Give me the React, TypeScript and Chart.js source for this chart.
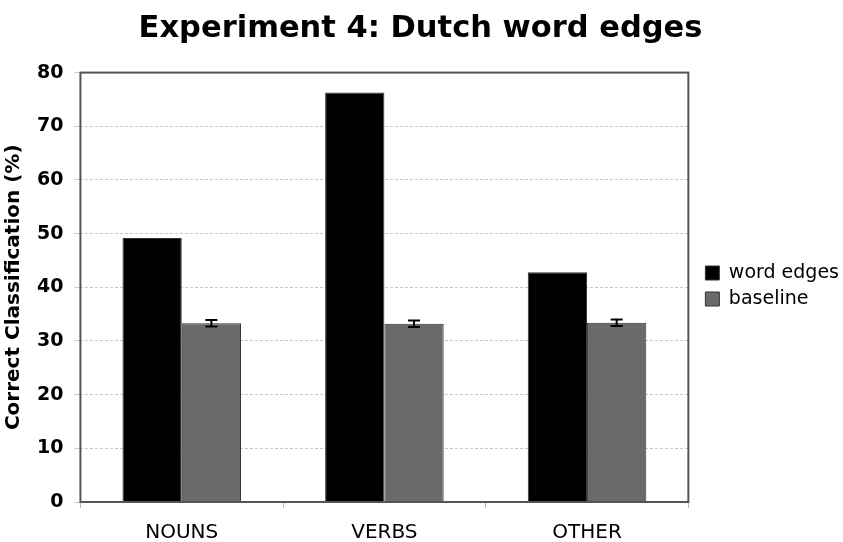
import React, { useEffect, useRef } from "react";
import { Chart, registerables } from "chart.js";

Chart.register(...registerables);

const categories = ["NOUNS", "VERBS", "OTHER"];
const wordEdges = [49.2, 76.3, 42.8];
const baseline = [33.3, 33.2, 33.4];
const baselineErr = [0.6, 0.6, 0.6];
const yTicks = [0, 10, 20, 30, 40, 50, 60, 70, 80];

const FONT = "'DejaVu Sans', Verdana, sans-serif";

const errorBarPlugin = {
  id: "errorBars",
  afterDatasetsDraw(chart: any) {
    const ctx = chart.ctx;
    const meta = chart.getDatasetMeta(1);
    const y = chart.scales.y;
    ctx.save();
    ctx.strokeStyle = "#000";
    ctx.lineWidth = 2;
    meta.data.forEach((bar: any, i: number) => {
      const v = baseline[i];
      const e = baselineErr[i];
      const yTop = y.getPixelForValue(v + e);
      const yBot = y.getPixelForValue(v - e);
      const x = bar.x;
      ctx.beginPath();
      ctx.moveTo(x, yTop);
      ctx.lineTo(x, yBot);
      ctx.moveTo(x - 6, yTop);
      ctx.lineTo(x + 6, yTop);
      ctx.moveTo(x - 6, yBot);
      ctx.lineTo(x + 6, yBot);
      ctx.stroke();
    });
    ctx.restore();
  },
};

const framePlugin = {
  id: "frame",
  afterLayout(chart: any) {
    const lg = chart.legend;
    if (lg) {
      lg.left += 10;
      lg.right += 10;
      lg.top += 7;
      lg.bottom += 7;
    }
  },
  afterDraw(chart: any) {
    const { ctx, chartArea } = chart;
    ctx.save();
    ctx.strokeStyle = "#555";
    ctx.lineWidth = 2;
    ctx.strokeRect(chartArea.left, chartArea.top, chartArea.right - chartArea.left, chartArea.bottom - chartArea.top);
    ctx.restore();
  },
};

export default function App() {
  const ref = useRef<HTMLCanvasElement | null>(null);
  useEffect(() => {
    document.body.style.margin = "0";
    const chart = new Chart(ref.current!, {
      type: "bar",
      data: {
        labels: categories,
        datasets: [
          {
            label: "word edges",
            data: wordEdges,
            backgroundColor: "#000000",
            borderColor: "#333333",
            borderWidth: 1,
            barPercentage: 1,
            categoryPercentage: 0.585,
          },
          {
            label: "baseline",
            data: baseline,
            backgroundColor: "#6a6a6a",
            borderColor: "#333333",
            borderWidth: 1,
            barPercentage: 1,
            categoryPercentage: 0.585,
          },
        ],
      },
      options: {
        responsive: false,
        animation: false,
        layout: { padding: { left: 2, right: 4, top: 0, bottom: -16 } },
        plugins: {
          title: {
            display: true,
            text: "Experiment 4: Dutch word edges",
            font: { family: FONT, size: 30.5, weight: "bold" },
            color: "#000",
            padding: { top: 11, bottom: 25 },
          },
          legend: {
            position: "right",
            labels: {
              font: { family: FONT, size: 19 },
              color: "#000",
              boxWidth: 14,
              boxHeight: 14,
              padding: 7,
            },
          },
          tooltip: { enabled: false },
        },
        scales: {
          x: {
            grid: { drawOnChartArea: false, offset: true, tickLength: 6, color: "#bbb" },
            border: { display: false },
            ticks: { font: { family: FONT, size: 20 }, color: "#000", padding: 13 },
          },
          y: {
            min: 0,
            max: 80,
            afterBuildTicks(axis: any) {
              axis.ticks = yTicks.map((v) => ({ value: v }));
            },
            grid: { color: "#c8c8c8", tickLength: 6 },
            border: { display: false, dash: [3, 2] },
            ticks: { font: { family: FONT, size: 19, weight: "bold" }, color: "#000", padding: 11 },
            title: {
              display: true,
              text: "Correct Classification (%)",
              font: { family: FONT, size: 20, weight: "bold" },
              color: "#000",
              padding: { top: 0, bottom: 0 },
            },
          },
        },
      },
      plugins: [errorBarPlugin, framePlugin],
    });
    return () => chart.destroy();
  }, []);
  return <canvas ref={ref} width={843} height={542} style={{ display: "block" }} />;
}
